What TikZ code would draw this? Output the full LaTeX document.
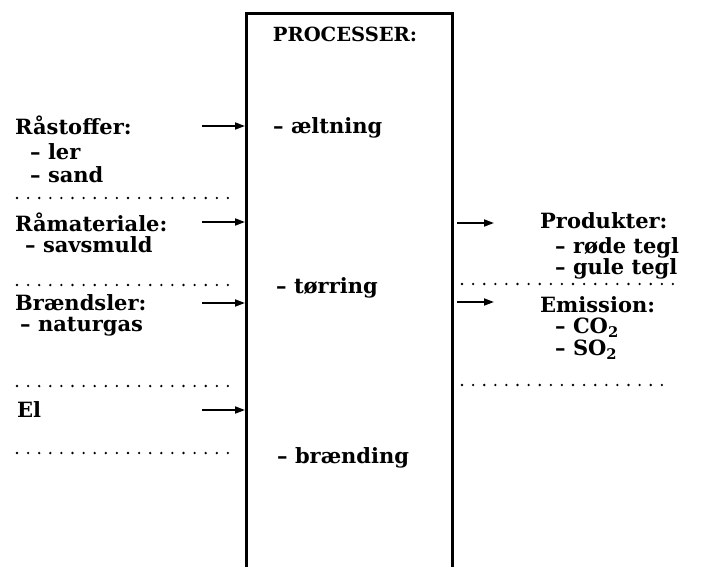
\documentclass[tikz,border=0pt]{standalone}
\usepackage{fontspec}
\setmainfont{DejaVu Serif}
\usetikzlibrary{arrows.meta}
\begin{document}
\begin{tikzpicture}[x=1pt,y=-1pt,
  lbl/.style={anchor=west,inner sep=0pt,font=\fontsize{21}{24}\selectfont\bfseries},
  feed/.style={line width=1.8pt,-{Triangle[length=10pt,width=7pt]}},
  sep/.style={line width=2.6pt,line cap=round,dash pattern=on 0pt off 11.1pt}]
\useasboundingbox[fill=white] (0,0) rectangle (702,567);

% process column, open at the bottom
\node[draw,line width=2.8pt,anchor=north west,minimum width=206pt,
      minimum height=620pt,inner sep=0pt] (proc) at (245,12) {};
\node[lbl,anchor=center,font=\fontsize{19.5}{22}\selectfont\bfseries] (title) at (345,34) {PROCESSER:};
\node[lbl] (p1) at (273,128) {– æltning};
\node[lbl] (p2) at (276,288) {– tørring};
\node[lbl] (p3) at (277,458) {– brænding};

% inputs
\node[lbl] (in1) at (15,125) {Råstoffer:};
\node[lbl] (in1a) at (30,152) {– ler};
\node[lbl] (in1b) at (30,175) {– sand};
\node[lbl] (in2) at (15,222) {Råmateriale:};
\node[lbl] (in2a) at (25,245) {– savsmuld};
\node[lbl] (in3) at (15,303) {Brændsler:};
\node[lbl] (in3a) at (20,327) {– naturgas};
\node[lbl] (in4) at (17,410) {El};

\coordinate (a1) at (202,126);
\coordinate (a2) at (202,222);
\coordinate (a3) at (202,303);
\coordinate (a4) at (202,410);
\foreach \c in {a1,a2,a3,a4}
  \draw[feed] (\c) -- (\c -| proc.west);

\foreach \y in {198,285,386,453}
  \draw[sep] (17,\y) -- (228,\y);

% outputs
\node[lbl] (out1) at (540,221) {Produkter:};
\node[lbl] (out1a) at (555,248) {– røde tegl};
\node[lbl] (out1b) at (555,269) {– gule tegl};
\node[lbl] (out2) at (540,305) {Emission:};
\node[lbl] (out2a) at (555,328) {– CO\textsubscript{2}};
\node[lbl] (out2b) at (555,350) {– SO\textsubscript{2}};

\coordinate (b1) at (494,223);
\coordinate (b2) at (494,302);
\foreach \c in {b1,b2}
  \draw[feed] (\c -| proc.east) ++(3,0) -- (\c);

\draw[sep] (462,284) -- (677,284);
\draw[sep] (462,385) -- (667,385);
\end{tikzpicture}
\end{document}
